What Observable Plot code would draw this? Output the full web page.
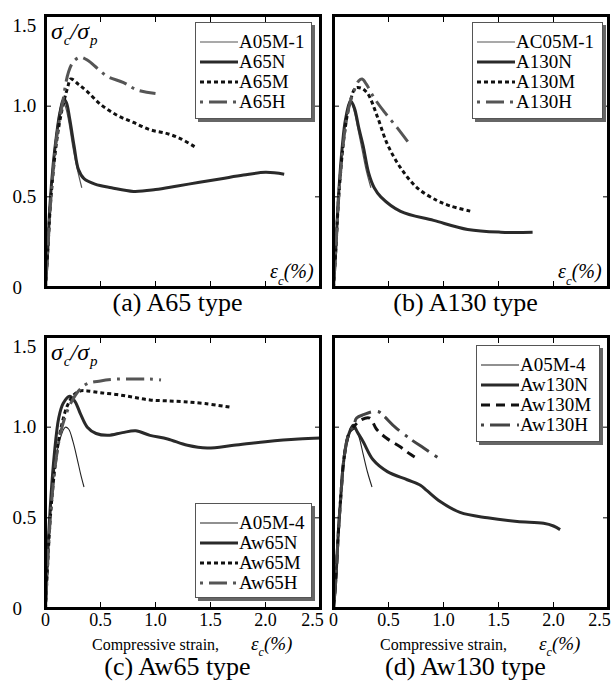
<!DOCTYPE html>
<html><head><meta charset="utf-8">
<script src="https://cdn.jsdelivr.net/npm/d3@7"></script>
<script src="https://cdn.jsdelivr.net/npm/@observablehq/plot@0.6"></script>
<style>
body{margin:0;background:#fff;}
#root{position:relative;width:613px;height:684px;background:#fff;font-family:"Liberation Serif",Tinos,"Times New Roman",Times,"Nimbus Roman","DejaVu Serif Condensed",serif;color:#000;overflow:hidden}
.abs{position:absolute}
.title{position:absolute;font-size:26px;line-height:1;text-align:center;white-space:nowrap}
.ylab{position:absolute;font-size:24px;font-style:italic;line-height:1;white-space:nowrap}
.ylab sub{font-size:15px;vertical-align:-6px;margin-left:1px}
.elab{position:absolute;font-size:20px;line-height:1;white-space:nowrap}
.elab sub{font-size:13px;vertical-align:-7px;font-style:italic;margin-left:0px}
.xlab{position:absolute;font-size:16px;line-height:1;white-space:nowrap}
.xlab i{font-size:19px}
.xlab i.eps{margin-left:32px}
.xlab sub{font-size:12px;vertical-align:-6px;font-style:italic;margin-left:0px}
.legend{position:absolute;background:#fff;border:1px solid #555;box-shadow:3px 3px 0 #666;box-sizing:border-box}
.legend .item{position:absolute;left:4px;height:20px;display:flex;align-items:center;font-size:19px;white-space:nowrap}
.legend .item svg{margin-right:1px}
</style>
</head><body>
<div id="root"></div>
<script>
// ---------- data ----------
const xTicks = [0, 0.5, 1, 1.5, 2, 2.5];
const xTickLabels = ["0", "0.5", "1.0", "1.5", "2.0", "2.5"];
const yTicks = [0, 0.5, 1, 1.5];
const yTickLabels = ["0", "0.5", "1.0", "1.5"];
const panelTitles = ["(a) A65 type", "(b) A130 type", "(c) Aw65 type", "(d) Aw130 type"];
const legendA = ["A05M-1", "A65N", "A65M", "A65H"];
const legendB = ["AC05M-1", "A130N", "A130M", "A130H"];
const legendC = ["A05M-4", "Aw65N", "Aw65M", "Aw65H"];
const legendD = ["A05M-4", "Aw130N", "Aw130M", "Aw130H"];
const xAxisTitle = "Compressive strain,";

// (a) A65 type  [strain %, sigma_c/sigma_p]
const a_ctrl = [[0,0],[0.02,0.2],[0.04,0.45],[0.07,0.7],[0.1,0.86],[0.13,0.98],[0.155,1.03],[0.18,1.0],[0.21,0.92],[0.25,0.77],[0.29,0.65],[0.33,0.55]];
const a_N = [[0,0],[0.02,0.2],[0.04,0.45],[0.07,0.68],[0.1,0.84],[0.13,0.96],[0.165,1.04],[0.19,1.02],[0.22,0.93],[0.26,0.78],[0.3,0.65],[0.35,0.6],[0.45,0.57],[0.6,0.55],[0.8,0.53],[1.0,0.54],[1.2,0.56],[1.4,0.58],[1.6,0.6],[1.8,0.62],[2.0,0.635],[2.17,0.625]];
const a_M = [[0,0],[0.02,0.2],[0.05,0.5],[0.1,0.8],[0.15,0.98],[0.2,1.1],[0.23,1.15],[0.3,1.12],[0.38,1.08],[0.5,1.01],[0.65,0.95],[0.8,0.91],[0.95,0.87],[1.1,0.85],[1.23,0.82],[1.36,0.775]];
const a_H = [[0,0],[0.02,0.2],[0.05,0.5],[0.1,0.82],[0.15,1.0],[0.21,1.19],[0.26,1.25],[0.32,1.27],[0.39,1.25],[0.45,1.22],[0.56,1.165],[0.71,1.13],[0.83,1.09],[1.0,1.07]];

// (b) A130 type
const b_ctrl = [[0,0],[0.02,0.2],[0.045,0.5],[0.08,0.78],[0.11,0.93],[0.15,1.03],[0.18,0.99],[0.22,0.88],[0.26,0.76],[0.3,0.64],[0.34,0.55]];
const b_N = [[0,0],[0.02,0.2],[0.045,0.5],[0.08,0.78],[0.11,0.93],[0.155,1.03],[0.19,0.99],[0.23,0.88],[0.27,0.78],[0.32,0.63],[0.37,0.55],[0.43,0.5],[0.61,0.42],[0.91,0.37],[1.22,0.32],[1.52,0.305],[1.81,0.305]];
const b_M = [[0,0],[0.02,0.2],[0.05,0.52],[0.1,0.85],[0.15,1.02],[0.2,1.1],[0.25,1.1],[0.31,1.07],[0.4,0.94],[0.49,0.79],[0.61,0.66],[0.76,0.55],[0.94,0.48],[1.06,0.45],[1.25,0.42]];
const b_H = [[0,0],[0.02,0.2],[0.05,0.52],[0.1,0.85],[0.15,1.02],[0.19,1.09],[0.23,1.14],[0.26,1.15],[0.3,1.12],[0.37,1.045],[0.46,0.97],[0.58,0.88],[0.68,0.8]];

// (c) Aw65 type
const c_ctrl = [[0,0],[0.02,0.25],[0.05,0.55],[0.09,0.8],[0.13,0.93],[0.18,1.0],[0.21,0.99],[0.25,0.92],[0.29,0.82],[0.32,0.74],[0.35,0.67]];
const c_N = [[0,0],[0.02,0.3],[0.05,0.62],[0.08,0.85],[0.12,1.05],[0.16,1.13],[0.22,1.17],[0.27,1.14],[0.32,1.07],[0.38,1.0],[0.46,0.965],[0.57,0.955],[0.7,0.97],[0.82,0.98],[0.95,0.955],[1.11,0.935],[1.29,0.9],[1.47,0.885],[1.71,0.9],[2.0,0.92],[2.3,0.935],[2.5,0.94]];
const c_M = [[0,0],[0.02,0.25],[0.05,0.55],[0.1,0.85],[0.15,1.02],[0.2,1.12],[0.26,1.18],[0.32,1.2],[0.38,1.2],[0.5,1.19],[0.65,1.18],[0.8,1.165],[0.95,1.15],[1.1,1.145],[1.26,1.14],[1.45,1.13],[1.68,1.11]];
const c_H = [[0,0],[0.02,0.25],[0.05,0.55],[0.1,0.84],[0.15,1.0],[0.22,1.12],[0.3,1.2],[0.38,1.24],[0.5,1.255],[0.65,1.265],[0.83,1.265],[0.95,1.265],[1.05,1.26]];

// (d) Aw130 type
const d_ctrl = [[0,0],[0.02,0.15],[0.045,0.43],[0.07,0.65],[0.09,0.8],[0.12,0.92],[0.15,0.97],[0.2,0.99],[0.23,0.95],[0.27,0.85],[0.31,0.75],[0.35,0.67]];
const d_N = [[0,0],[0.02,0.15],[0.045,0.43],[0.07,0.65],[0.09,0.8],[0.12,0.92],[0.15,0.98],[0.18,1.01],[0.22,0.97],[0.27,0.92],[0.36,0.82],[0.49,0.755],[0.67,0.71],[0.79,0.68],[0.85,0.65],[0.97,0.59],[1.15,0.53],[1.4,0.5],[1.67,0.48],[1.91,0.47],[2.0,0.455],[2.06,0.435]];
const d_M = [[0,0],[0.02,0.15],[0.045,0.43],[0.07,0.65],[0.09,0.8],[0.12,0.92],[0.15,0.98],[0.18,1.0],[0.25,1.04],[0.33,1.05],[0.39,0.99],[0.48,0.94],[0.61,0.89],[0.7,0.85],[0.78,0.82]];
const d_H = [[0,0],[0.02,0.15],[0.045,0.43],[0.07,0.65],[0.09,0.8],[0.12,0.92],[0.15,0.98],[0.18,1.0],[0.21,1.05],[0.28,1.07],[0.35,1.085],[0.41,1.085],[0.46,1.06],[0.56,1.0],[0.71,0.93],[0.82,0.885],[0.98,0.82]];

// ---------- styles ----------
const FONT = "'Liberation Serif', Tinos, 'Times New Roman', Times, 'Nimbus Roman', 'DejaVu Serif Condensed', serif";
const S = {
  ctrl: {stroke: "#555", strokeWidth: 1.2},
  ctrlD: {stroke: "#222", strokeWidth: 1.1},
  N: {stroke: "#2a2a2a", strokeWidth: 3},
  M: {stroke: "#111", strokeWidth: 3, strokeDasharray: "4,3"},
  Md: {stroke: "#111", strokeWidth: 3, strokeDasharray: "9,6"},
  H: {stroke: "#555", strokeWidth: 3, strokeDasharray: "3,6,18,6"},
  Hd: {stroke: "#444", strokeWidth: 3, strokeDasharray: "3,6,20,7"}
};

const panels = [
  {left: 0, top: 0, w: 325, h: 290, ml: 45, mb: 3, bottomLabels: false, yLabels: true,
   series: [[a_ctrl, S.ctrl], [a_N, S.N], [a_M, S.M], [a_H, S.H]], legend: legendA,
   legStyles: [S.ctrl, S.N, S.M, S.H], leg: {left: 195, top: 22, w: 117, h: 97}},
  {left: 328, top: 0, w: 285, h: 290, ml: 5, mb: 3, bottomLabels: false, yLabels: false,
   series: [[b_ctrl, S.ctrl], [b_N, S.N], [b_M, S.M], [b_H, S.H]], legend: legendB,
   legStyles: [S.ctrl, S.N, S.M, S.H], leg: {left: 472, top: 22, w: 131, h: 97}},
  {left: 0, top: 321, w: 325, h: 315, ml: 45, mb: 28, bottomLabels: true, yLabels: true, lastShift: -8,
   series: [[c_ctrl, S.ctrlD], [c_N, S.N], [c_M, S.M], [c_H, S.H]], legend: legendC,
   legStyles: [S.ctrlD, S.N, S.M, S.H], leg: {left: 195, top: 503, w: 117, h: 95}},
  {left: 328, top: 321, w: 285, h: 315, ml: 5, mb: 28, bottomLabels: true, yLabels: false, lastShift: -9,
   series: [[d_ctrl, S.ctrlD], [d_N, S.N], [d_M, S.Md], [d_H, S.Hd]], legend: legendD,
   legStyles: [S.ctrlD, S.N, S.Md, S.Hd], leg: {left: 476, top: 345, w: 124, h: 97}}
];

const root = document.getElementById("root");
const fmtX = d => xTickLabels[xTicks.indexOf(d)];
const fmtY = d => yTickLabels[yTicks.indexOf(d)];

panels.forEach((p, i) => {
  const marks = [];
  p.series.forEach(([data, st]) => {
    marks.push(Plot.line(data, {x: d => d[0], y: d => d[1], curve: "catmull-rom", ...st, strokeLinecap: "butt"}));
  });
  const empty = () => "";
  marks.push(Plot.axisX({ticks: xTicks, anchor: "bottom", tickSize: -6, tickFormat: empty, label: null, strokeWidth: 1}));
  marks.push(Plot.axisX({ticks: xTicks, anchor: "top", tickSize: -6, tickFormat: empty, label: null, strokeWidth: 1}));
  marks.push(Plot.axisY({ticks: yTicks, anchor: "left", tickSize: -6, tickFormat: empty, label: null, strokeWidth: 1}));
  marks.push(Plot.axisY({ticks: yTicks, anchor: "right", tickSize: -6, tickFormat: empty, label: null, strokeWidth: 1}));
  if (p.bottomLabels) {
    marks.push(Plot.axisX({ticks: xTicks.slice(0, -1), anchor: "bottom", tickSize: 0, tickPadding: 5, tickFormat: fmtX, label: null, fontSize: 18}));
    marks.push(Plot.axisX({ticks: xTicks.slice(-1), anchor: "bottom", tickSize: 0, tickPadding: 5, tickFormat: fmtX, label: null, fontSize: 18, dx: p.lastShift}));
  }
  if (p.yLabels) {
    marks.push(Plot.text(yTicks.filter(d => d < 1.5), {y: d => d, text: fmtY, frameAnchor: "left", textAnchor: "start", dx: -33, fontSize: 19}));
    marks.push(Plot.text(yTicks.filter(d => d >= 1.5), {y: d => d, text: fmtY, frameAnchor: "left", textAnchor: "start", dx: -33, dy: 10, fontSize: 19}));
  }
  marks.push(Plot.frame({stroke: "#000", strokeWidth: 3}));
  const svg = Plot.plot({
    width: p.w, height: p.h,
    marginLeft: p.ml, marginRight: 5, marginTop: 15, marginBottom: p.mb,
    x: {domain: [0, 2.5]}, y: {domain: [0, 1.5]},
    style: {background: "transparent", overflow: "visible", fontFamily: FONT, fontSize: "18px", color: "#000"},
    marks
  });
  const holder = document.createElement("div");
  holder.className = "abs";
  holder.style.left = p.left + "px";
  holder.style.top = p.top + "px";
  holder.appendChild(svg);
  root.appendChild(holder);

  const plotLeft = p.left + p.ml, plotRight = p.left + p.w - 5;
  const plotTop = p.top + 15, plotBottom = p.top + p.h - p.mb;
  const cx = (plotLeft + plotRight) / 2;

  // legend
  const lg = document.createElement("div");
  lg.className = "legend";
  Object.assign(lg.style, {left: p.leg.left + "px", top: p.leg.top + "px", width: p.leg.w + "px", height: p.leg.h + "px"});
  p.legend.forEach((name, j) => {
    const st = p.legStyles[j];
    const it = document.createElement("div");
    it.className = "item";
    it.style.top = (9 + j * 20) + "px";
    it.innerHTML = `<svg width="38" height="10"><line x1="0" x2="38" y1="5" y2="5" stroke="${st.stroke}" stroke-width="${st.strokeWidth}" ${st.strokeDasharray ? `stroke-dasharray="${st.strokeDasharray}"` : ""}/></svg><span>${name}</span>`;
    lg.appendChild(it);
  });
  root.appendChild(lg);

  // y label sigma_c / sigma_p
  if (p.yLabels) {
    const yl = document.createElement("div");
    yl.className = "ylab";
    yl.style.left = (plotLeft + 6) + "px";
    yl.style.top = (plotTop + 4) + "px";
    yl.innerHTML = `σ<sub>c</sub>/σ<sub>p</sub>`;
    root.appendChild(yl);
  }
  // strain label
  if (!p.bottomLabels) {
    const el = document.createElement("div");
    el.className = "elab";
    el.style.left = (plotRight - 50) + "px";
    el.style.top = (plotBottom - 26) + "px";
    el.innerHTML = `<i>ε</i><sub>c</sub><i>(%)</i>`;
    root.appendChild(el);
  } else {
    const xl = document.createElement("div");
    xl.className = "xlab";
    xl.style.left = (plotLeft + 47) + "px";
    xl.style.top = (plotBottom + 26) + "px";
    xl.innerHTML = `${xAxisTitle}<i class="eps">ε</i><sub>c</sub><i>(%)</i>`;
    root.appendChild(xl);
  }
  // panel title
  const t = document.createElement("div");
  t.className = "title";
  t.textContent = panelTitles[i];
  t.style.left = (cx - 100 - 5) + "px";
  t.style.width = "200px";
  t.style.top = (plotBottom + (p.bottomLabels ? 46 : 3)) + "px";
  root.appendChild(t);
});
</script>
</body></html>
